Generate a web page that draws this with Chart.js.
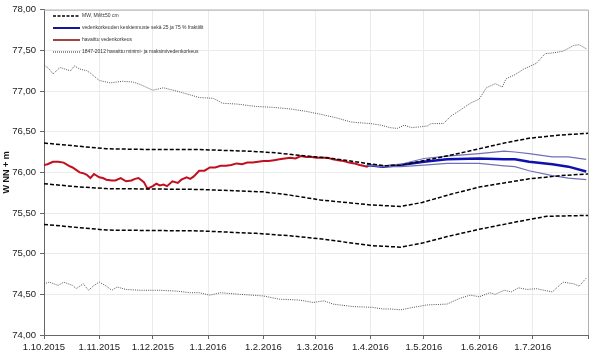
<!DOCTYPE html>
<html>
<head>
<meta charset="utf-8">
<script src="https://cdn.jsdelivr.net/npm/chart.js@4.4.1/dist/chart.umd.min.js"></script>
<style>
  body { margin: 0; background: #fff; }
</style>
</head>
<body>
<canvas id="vk" width="600" height="355"></canvas>
<script>
// days counted from 1.10.2015
const monthDays = [0, 31, 61, 92, 123, 152, 183, 213, 244, 274, 305];
const monthLabels = ['1.10.2015', '1.11.2015', '1.12.2015', '1.1.2016', '1.2.2016', '1.3.2016',
  '1.4.2016', '1.5.2016', '1.6.2016', '1.7.2016', ''];

// MW + 50 cm
const upperDays = [0, 20, 35, 60, 87, 115, 130, 143, 162, 181, 192, 200, 212, 230, 244, 258, 272, 290, 305];
const upperVals = [76.36, 76.32, 76.29, 76.28, 76.28, 76.26, 76.24, 76.21, 76.17, 76.11, 76.08, 76.09, 76.14, 76.22, 76.29, 76.36, 76.42, 76.46, 76.48];
// MW
const meanDays = [0, 20, 35, 87, 123, 138, 155, 183, 200, 212, 228, 244, 258, 272, 290, 305];
const meanVals = [75.86, 75.82, 75.80, 75.79, 75.76, 75.72, 75.66, 75.60, 75.58, 75.63, 75.73, 75.82, 75.87, 75.92, 75.96, 75.98];
// MW - 50 cm
const lowerDays = [0, 20, 35, 87, 119, 138, 156, 183, 200, 212, 226, 244, 267, 282, 305];
const lowerVals = [75.36, 75.32, 75.29, 75.28, 75.25, 75.22, 75.18, 75.10, 75.08, 75.13, 75.21, 75.30, 75.40, 75.46, 75.47];

// 1847-2012 maksimi
const maxDays = [0, 3, 5, 9, 13, 15, 17, 20, 24, 26, 31, 37, 44, 50, 54, 61, 67, 76, 87, 95, 100, 108, 119, 128, 138, 147, 156, 164, 172, 177, 183, 189, 194, 198, 202, 206, 211, 215, 217, 224, 228, 233, 239, 244, 248, 253, 257, 259, 264, 269, 276, 281, 286, 291, 297, 300, 304];
const maxVals = [77.32, 77.27, 77.21, 77.29, 77.26, 77.25, 77.31, 77.27, 77.25, 77.22, 77.13, 77.10, 77.12, 77.11, 77.08, 77.01, 77.04, 76.99, 76.92, 76.91, 76.85, 76.84, 76.81, 76.80, 76.78, 76.75, 76.71, 76.67, 76.62, 76.61, 76.60, 76.58, 76.55, 76.54, 76.58, 76.55, 76.56, 76.57, 76.60, 76.60, 76.69, 76.76, 76.85, 76.90, 77.04, 77.09, 77.05, 77.15, 77.20, 77.27, 77.34, 77.46, 77.47, 77.49, 77.56, 77.57, 77.52];
// 1847-2012 minimi
const minDays = [0, 3, 8, 11, 16, 18, 22, 25, 28, 31, 35, 38, 41, 46, 54, 65, 74, 82, 87, 93, 99, 110, 123, 132, 143, 151, 157, 162, 173, 184, 190, 194, 200, 207, 215, 226, 233, 239, 244, 250, 253, 258, 262, 266, 271, 276, 285, 291, 297, 300, 304];
const minVals = [74.63, 74.65, 74.61, 74.65, 74.61, 74.57, 74.63, 74.55, 74.61, 74.65, 74.60, 74.55, 74.59, 74.56, 74.55, 74.55, 74.54, 74.52, 74.52, 74.49, 74.52, 74.50, 74.48, 74.44, 74.43, 74.40, 74.42, 74.38, 74.35, 74.34, 74.32, 74.32, 74.31, 74.34, 74.37, 74.38, 74.45, 74.49, 74.47, 74.52, 74.50, 74.55, 74.53, 74.58, 74.56, 74.57, 74.53, 74.65, 74.63, 74.60, 74.70];

// havaittu
const obsDays = [0, 2, 5, 8, 11, 14, 16, 18, 20, 22, 24, 26, 28, 31, 33, 35, 38, 40, 43, 46, 49, 51, 53, 56, 58, 61, 63, 65, 67, 69, 72, 75, 77, 80, 82, 84, 87, 90, 93, 96, 99, 102, 105, 108, 111, 114, 117, 120, 123, 126, 129, 132, 135, 138, 141, 144, 147, 150, 153, 156, 159, 162, 165, 168, 171, 174, 177, 179, 181, 183];
const obsVals = [76.09, 76.10, 76.13, 76.13, 76.12, 76.08, 76.06, 76.03, 76.00, 75.99, 75.97, 75.93, 75.98, 75.94, 75.93, 75.91, 75.90, 75.90, 75.93, 75.89, 75.90, 75.92, 75.93, 75.88, 75.80, 75.83, 75.86, 75.84, 75.85, 75.83, 75.89, 75.87, 75.91, 75.94, 75.92, 75.95, 76.02, 76.02, 76.06, 76.06, 76.08, 76.08, 76.09, 76.11, 76.10, 76.12, 76.12, 76.13, 76.14, 76.14, 76.15, 76.16, 76.17, 76.18, 76.17, 76.20, 76.19, 76.19, 76.18, 76.18, 76.18, 76.16, 76.15, 76.14, 76.12, 76.11, 76.09, 76.08, 76.07, 76.10];

// ennuste: keskiennuste ja 25 / 75 % fraktiilit
const fcDays = [181, 190, 200, 213, 226, 244, 258, 264, 272, 285, 294, 304];
const fcMid = [76.09, 76.07, 76.09, 76.13, 76.16, 76.17, 76.16, 76.16, 76.13, 76.10, 76.07, 76.01];
const fc75 = [76.09, 76.08, 76.10, 76.17, 76.20, 76.23, 76.26, 76.25, 76.23, 76.19, 76.19, 76.16];
const fc25 = [76.09, 76.07, 76.07, 76.09, 76.11, 76.11, 76.08, 76.07, 76.02, 75.96, 75.93, 75.91];

const legendLabels = ['MW, MW±50 cm', 'vedenkorkeuden keskiennuste sekä 25 ja 75 % fraktiilit',
  'havaittu vedenkorkeus', '1847-2012 havaittu minimi- ja maksimivedenkorkeus'];

function pts(days, vals) {
  return days.map((d, i) => ({ x: d, y: vals[i] }));
}

function line(data, color, width, dash) {
  return { data, borderColor: color, borderWidth: width, borderDash: dash || [],
    pointRadius: 0, tension: 0, fill: false };
}

const frameAndLegend = {
  id: 'frameAndLegend',
  afterDraw(chart) {
    const { ctx, chartArea: a } = chart;
    ctx.save();
    ctx.strokeStyle = '#b0b0b0';
    ctx.lineWidth = 1;
    ctx.beginPath();
    ctx.moveTo(a.left, a.top + 0.5);
    ctx.lineTo(a.right + 0.5, a.top + 0.5);
    ctx.lineTo(a.right + 0.5, a.bottom);
    ctx.stroke();

    // legend inside the plot
    const styles = [
      { c: '#000', w: 1.5, d: [3, 1.5] },
      { c: '#1414a0', w: 2, d: [] },
      { c: '#a04444', w: 2, d: [] },
      { c: '#222', w: 1, d: [1, 1] }
    ];
    ctx.font = '5px "Liberation Sans", Arial, sans-serif';
    ctx.textBaseline = 'middle';
    ctx.fillStyle = '#333';
    legendLabels.forEach((t, i) => {
      const y = 16 + i * 12;
      const s = styles[i];
      ctx.beginPath();
      ctx.strokeStyle = s.c;
      ctx.lineWidth = s.w;
      ctx.setLineDash(s.d);
      ctx.moveTo(53, y);
      ctx.lineTo(80, y);
      ctx.stroke();
      ctx.setLineDash([]);
      ctx.fillText(t, 82, y);
    });
    ctx.restore();
  }
};

new Chart(document.getElementById('vk'), {
  type: 'line',
  data: {
    datasets: [
      line(pts(maxDays, maxVals), '#555', 1, [1, 1.2]),
      line(pts(minDays, minVals), '#555', 1, [1, 1.2]),
      line(pts(upperDays, upperVals), '#000', 1.5, [4, 2]),
      line(pts(meanDays, meanVals), '#000', 1.5, [4, 2]),
      line(pts(lowerDays, lowerVals), '#000', 1.5, [4, 2]),
      line(pts(fcDays, fc75), '#7070b8', 1.2),
      line(pts(fcDays, fc25), '#7070b8', 1.2),
      line(pts(fcDays, fcMid), '#1010b0', 2.5),
      line(pts(obsDays, obsVals), '#c0101e', 2)
    ]
  },
  options: {
    responsive: false,
    animation: false,
    devicePixelRatio: 1,
    layout: { padding: { top: 9, right: 12, left: 0, bottom: 0 } },
    plugins: { legend: { display: false }, tooltip: { enabled: false } },
    scales: {
      x: {
        type: 'linear',
        min: 0,
        max: 305,
        afterBuildTicks: s => { s.ticks = monthDays.map(v => ({ value: v })); },
        afterFit: s => { s.height = 20; },
        ticks: {
          autoSkip: false,
          maxRotation: 0,
          padding: 3,
          color: '#222',
          font: { family: '"Liberation Sans", Arial, sans-serif', size: 9.5 },
          callback: v => monthLabels[monthDays.indexOf(v)]
        },
        grid: { color: '#ebebeb', tickColor: '#666', tickLength: 4 },
        border: { color: '#666', width: 1 }
      },
      y: {
        min: 74,
        max: 78,
        afterFit: s => { s.width = 44; },
        ticks: {
          stepSize: 0.5,
          padding: 4,
          color: '#222',
          font: { family: '"Liberation Sans", Arial, sans-serif', size: 9.5 },
          callback: v => v.toFixed(2).replace('.', ',')
        },
        title: {
          display: true,
          text: 'W NN + m',
          color: '#111',
          padding: { top: 1, bottom: 0 },
          font: { family: '"Liberation Sans", Arial, sans-serif', size: 9, weight: 'bold' }
        },
        grid: { color: '#ebebeb', tickColor: '#666', tickLength: 4 },
        border: { color: '#666', width: 1 }
      }
    }
  },
  plugins: [frameAndLegend]
});
</script>
</body>
</html>
